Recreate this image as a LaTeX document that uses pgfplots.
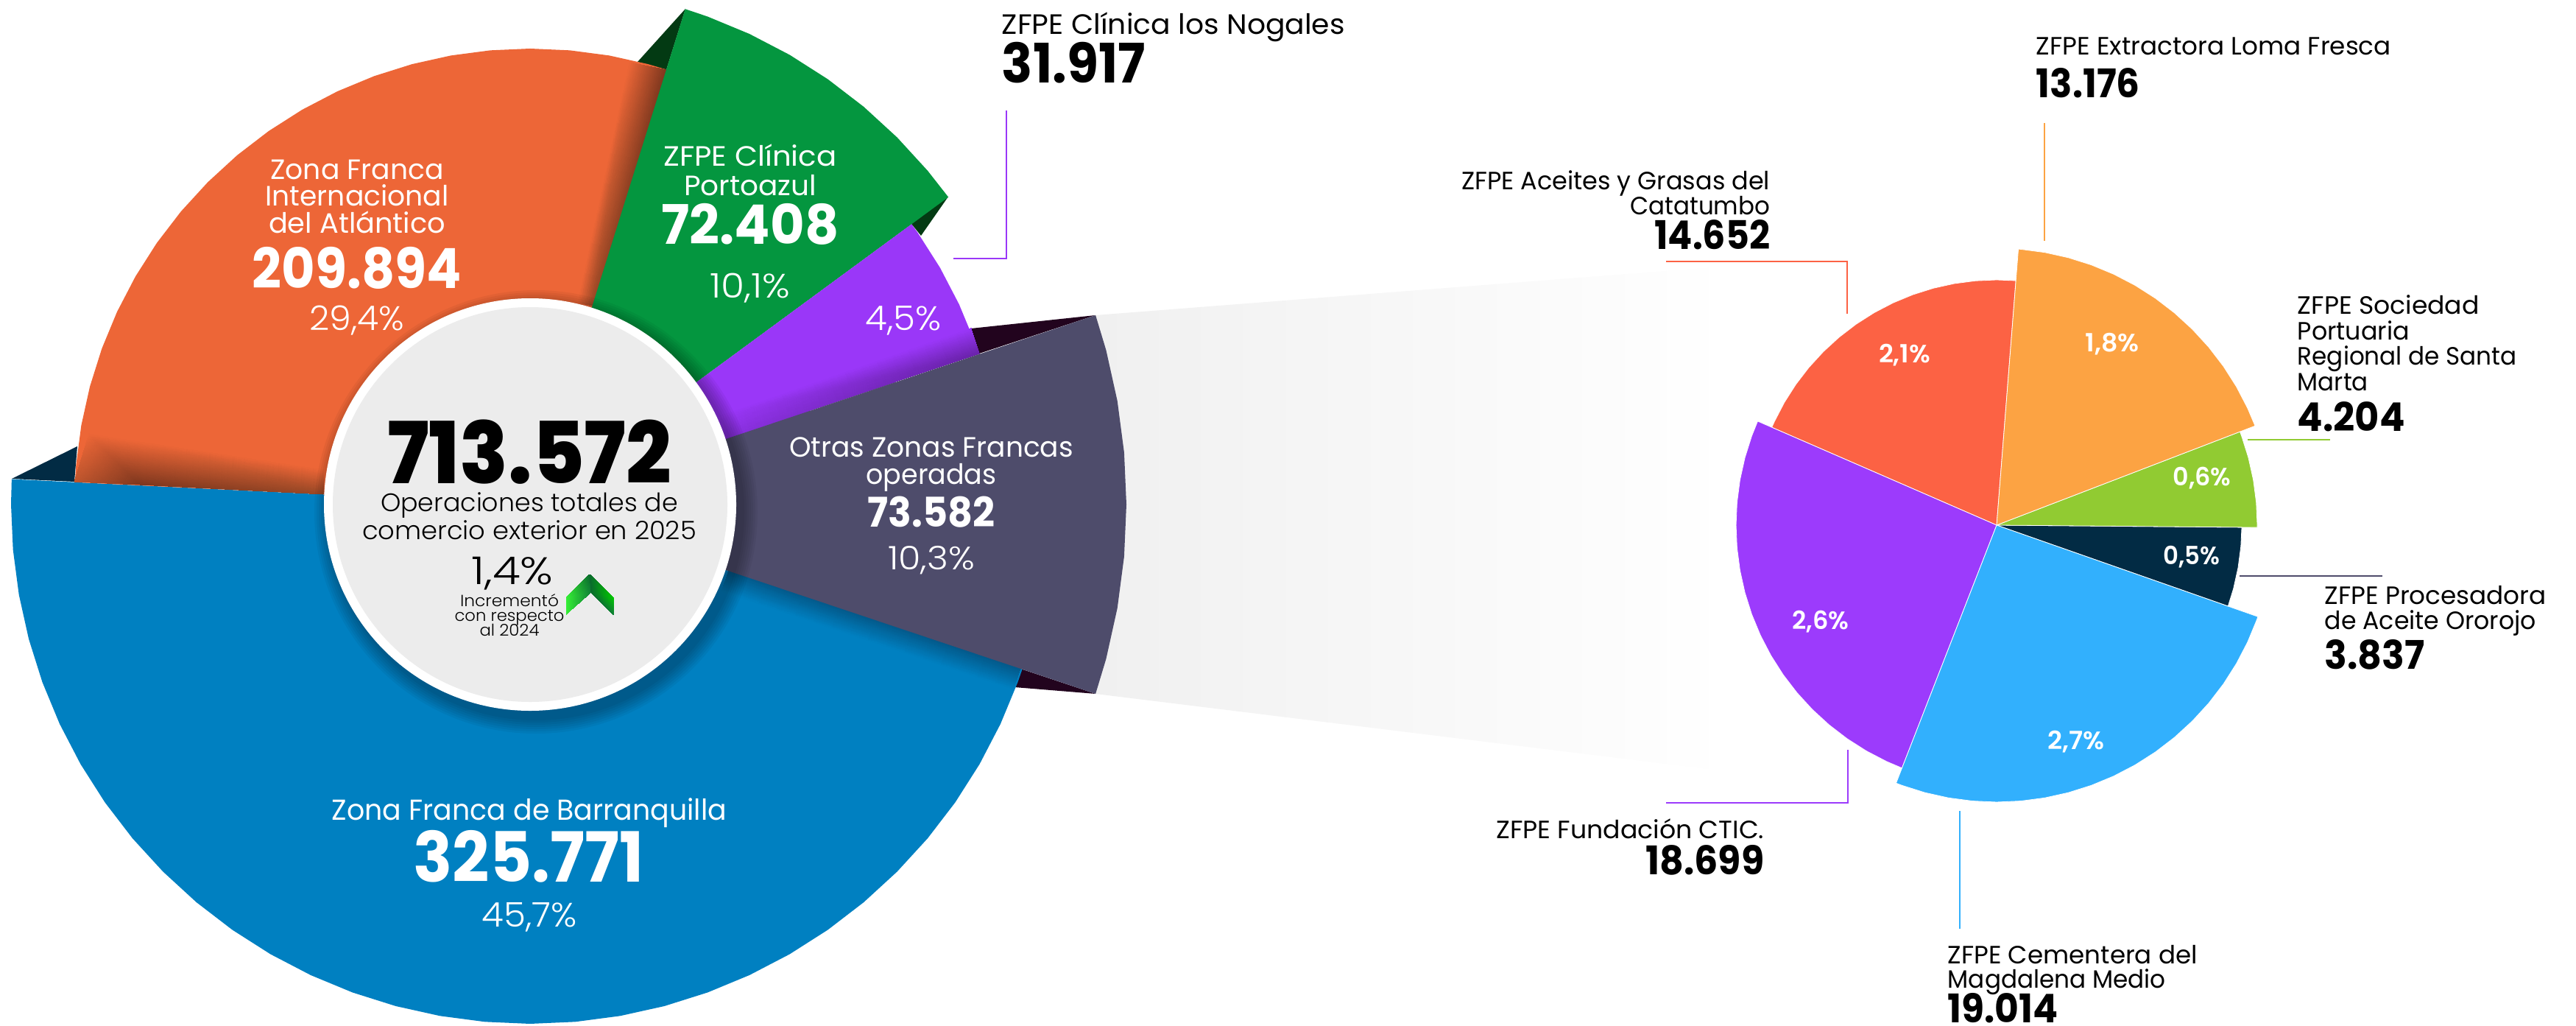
\documentclass[border=0pt]{standalone}
\usepackage{pgfplots}
\usepackage{fontspec}
\usepackage{graphicx}
\pgfplotsset{compat=1.18}
\setmainfont{Poppins}
\newfontfamily\pl{Poppins Light}
\newfontfamily\pr{Poppins}
\newfontfamily\pb{Poppins}[BoldFont={Poppins ExtraBold}]
\newfontfamily\pbb{Poppins}[BoldFont={Poppins Bold}]
\newfontfamily\psb{Poppins SemiBold}
\definecolor{cOr}{HTML}{ED6637}\definecolor{cOrD}{HTML}{7E371E}\definecolor{cOrM}{HTML}{9A4826}
\definecolor{cOrL}{HTML}{C0562E}
\definecolor{cGr}{HTML}{04963F}\definecolor{cGrD}{HTML}{033A13}
\definecolor{cPu}{HTML}{9A37F8}\definecolor{cPuD}{HTML}{6A22AB}\definecolor{cPuM}{HTML}{8A30E0}\definecolor{cPuK}{HTML}{22041E}
\definecolor{cDk}{HTML}{4E4C6B}
\definecolor{cBl}{HTML}{0080C1}\definecolor{cBlD}{HTML}{03598A}\definecolor{cNv}{HTML}{022B44}
\definecolor{rLi}{HTML}{91CB32}\definecolor{rOr}{HTML}{FCA343}\definecolor{rRe}{HTML}{FC6244}
\definecolor{rPu}{HTML}{9C3BFC}\definecolor{rBl}{HTML}{32B0FD}\definecolor{rNv}{HTML}{022B44}
\definecolor{fGr}{HTML}{F0F0F0}\definecolor{cCi}{HTML}{ECECEC}
\definecolor{aA}{HTML}{0A6B2C}\definecolor{aB}{HTML}{35F035}\definecolor{aC}{HTML}{00C800}\definecolor{aD}{HTML}{0F7F35}
\pgfplotsset{
  base/.style={scale only axis,width=874.75pt,height=348pt,at={(0,0)},anchor=south west,hide axis,clip=false},
  sec/.style={data cs=polar,no marks,fill=#1,draw=none},
  secw/.style={data cs=polar,no marks,fill=#1,draw=white,line width=0.2pt},
  fold/.style={no marks,fill=#1,draw=none},
  grad/.style={patch,patch type=rectangle,shader=interp,mesh/color input=explicit,point meta=explicit symbolic},
  lead/.style={no marks,draw=#1,line width=0.55pt}
}
% x y anchor size(pt) width(px) fontswitch text colour
\newcommand\T[8]{\node[anchor=#3,inner sep=0pt,text=#8] at (axis cs:#1,#2)
  {\resizebox{\dimexpr0.25pt*#5\relax}{\height}{\fontsize{#4pt}{#4pt}\selectfont#6#7}};}
\begin{document}
\begin{tikzpicture}
\path[use as bounding box] (0,0) rectangle (874.75pt,348pt);
% ---------- left pie, origin at its centre
\begin{axis}[base,xmin=-720,xmax=2779,ymin=-707,ymax=685]
\addplot[no marks,draw=none,left color=fGr,right color=white] coordinates {(768,257)(1630,324)(1630,-363)(768,-257)} -- cycle;
\addplot[fold=cGrD] coordinates {(211,673)(146,601)(185,590)};
\addplot[fold=cGrD] coordinates {(568,418)(518,381)(531,365)};
\addplot[fold=cPuK] coordinates {(599,239)(768,257)(610,205)};
\addplot[fold=cPuK] coordinates {(666,-223)(768,-257)(658,-248)};
\addplot[fold=cNv] coordinates {(-704,35)(-615,79)(-619,31)};
% Zona Franca de Barranquilla 325.771
\addplot[sec=cBl] coordinates {(0,0)(177.2,705)(180,705)(185,705)(190,705)(195,705)(200,705)(205,705)(210,705)(215,705)(220,705)(225,705)(230,705)(235,705)(240,705)(245,705)(250,705)(255,705)(260,705)(265,705)(270,705)(275,705)(280,705)(285,705)(290,705)(295,705)(300,705)(305,705)(310,705)(315,705)(320,705)(325,705)(330,705)(335,705)(340,705)(341.5,705)};
% Zona Franca Internacional del Atlantico 209.894
\addplot[sec=cOr] coordinates {(0,0)(72.5,619)(75,619)(80,619)(85,619)(90,619)(95,619)(100,619)(105,619)(110,619)(115,619)(120,619)(125,619)(130,619)(135,619)(140,619)(145,619)(150,619)(155,619)(160,619)(165,619)(170,619)(175,619)(177.2,619)};
\addplot[grad] coordinates {(-619,31)[color=cOrL] (-530,27)[color=cOrD] (-530,85)[color=cOr] (-599,96)[color=cOr]};
\addplot[grad] coordinates {(-530,27)[color=cOrD] (-280,14)[color=cOrM] (-280,47)[color=cOr] (-530,85)[color=cOr]};
\addplot[grad] coordinates {(185,590)[color=cOrD] (85,270)[color=cOrM] (65,274)[color=cOr] (135,600)[color=cOr]};
\addplot[grad] coordinates {(270,-90)[color=cBlD] (666,-223)[color=cBlD] (656,-251)[color=cBl] (260,-118)[color=cBl]};
% ZFPE Clinica Portoazul 72.408
\addplot[sec=cGr] coordinates {(0,0)(36.3,705)(40,705)(45,705)(50,705)(55,705)(60,705)(65,705)(70,705)(72.6,705)};
% ZFPE Clinica los Nogales 31.917
\addplot[sec=cPu] coordinates {(0,0)(18.6,643)(20,643)(25,643)(30,643)(35,643)(36.3,643)};
\addplot[grad] coordinates {(265,89)[color=cPuM] (610,205)[color=cPuD] (599,239)[color=cPu] (255,119)[color=cPu]};
% Otras Zonas Francas operadas 73.582
\addplot[sec=cDk] coordinates {(0,0)(-18.5,810)(-15,810)(-10,810)(-5,810)(0,810)(5,810)(10,810)(15,810)(18.5,810)};
\end{axis}
% ---------- right pie, origin at its centre
\begin{axis}[base,xmin=-2712,xmax=787,ymin=-679,ymax=713]
% Procesadora de Aceite Ororojo 3.837
\addplot[secw=rNv] coordinates {(0,0)(340.7,333)(345,333)(350,333)(355,333)(359.5,333)} -- cycle;
% Sociedad Portuaria Regional de Santa Marta 4.204
\addplot[secw=rLi] coordinates {(0,0)(-0.5,354)(0,354)(5,354)(10,354)(15,354)(20,354)(21,354)} -- cycle;
% Aceites y Grasas del Catatumbo 14.652
\addplot[secw=rRe] coordinates {(0,0)(85.5,333)(90,333)(95,333)(100,333)(105,333)(110,333)(115,333)(120,333)(125,333)(130,333)(135,333)(140,333)(145,333)(150,333)(155,333)(156.5,333)} -- cycle;
% Extractora Loma Fresca 13.176
\addplot[secw=rOr] coordinates {(0,0)(21,376)(25,376)(30,376)(35,376)(40,376)(45,376)(50,376)(55,376)(60,376)(65,376)(70,376)(75,376)(80,376)(85,376)(85.5,376)} -- cycle;
% Fundacion CTIC 18.699
\addplot[secw=rPu] coordinates {(0,0)(156.5,354)(160,354)(165,354)(170,354)(175,354)(180,354)(185,354)(190,354)(195,354)(200,354)(205,354)(210,354)(215,354)(220,354)(225,354)(230,354)(235,354)(240,354)(245,354)(248.7,354)} -- cycle;
% Cementera del Magdalena Medio 19.014
\addplot[secw=rBl] coordinates {(0,0)(248.7,376)(250,376)(255,376)(260,376)(265,376)(270,376)(275,376)(280,376)(285,376)(290,376)(295,376)(300,376)(305,376)(310,376)(315,376)(320,376)(325,376)(330,376)(335,376)(340,376)(340.7,376)} -- cycle;
\end{axis}
% ---------- texts, leaders, centre circle, in reference pixels
\begin{axis}[base,xmin=0,xmax=3499,ymin=0,ymax=1392,y dir=reverse]
\pgfplotsinvokeforeach{1,...,7}{\fill[black,opacity=.045] (axis cs:728,695) circle ({(280+3*#1)*0.25pt});}
\fill[white] (axis cs:720,685) circle (70pt);
\fill[cCi] (axis cs:720,685) circle (67pt);
\addplot[grad] coordinates {(801,780)[color=aA] (803,804)[color=aD] (769,834)[color=aB] (769,811)[color=aB]};
\addplot[grad] coordinates {(801,780)[color=aA] (833,811)[color=aC] (833,834)[color=aD] (803,804)[color=aA]};
% leaders
\addplot[lead=cPu] coordinates {(1295,351)(1367,351)(1367,150)};
\addplot[lead=rOr] coordinates {(2777,167)(2777,327)};
\addplot[lead=rRe] coordinates {(2263,355)(2509,355)(2509,426)};
\addplot[lead=rLi] coordinates {(3053,597)(3165,597)};
\addplot[lead=cDk] coordinates {(3042,782)(3236,782)};
\addplot[lead=rPu] coordinates {(2510,1018)(2510,1090)(2263,1090)};
\addplot[lead=rBl] coordinates {(2662,1101)(2662,1261)};
% centre
\T{719}{656}{base}{29}{386}{\pb\bfseries}{713.572}{black}
\T{719}{694}{base}{8.6}{404}{\pl}{Operaciones totales de}{black}
\T{719}{732}{base}{8.6}{454}{\pl}{comercio exterior en 2025}{black}
\T{696}{793}{base}{13}{111}{\pl}{1,4\%}{black}
\T{692}{823}{base}{5.5}{134}{\pl}{Incrementó}{black}
\T{692}{843}{base}{5.5}{149}{\pl}{con respecto}{black}
\T{692}{863}{base}{5.5}{81}{\pl}{al 2024}{black}
% left pie labels
\T{485}{243}{base}{9.5}{235}{\pr}{Zona Franca}{white}
\T{485}{279}{base}{9.5}{249}{\pr}{Internacional}{white}
\T{485}{316}{base}{9.5}{240}{\pr}{del Atlántico}{white}
\T{485}{391}{base}{18.8}{284}{\pbb\bfseries}{209.894}{white}
\T{485}{448}{base}{11.5}{129}{\pl}{29,4\%}{white}
\T{1019}{225}{base}{9.5}{235}{\pr}{ZFPE Clínica}{white}
\T{1019}{265}{base}{9.5}{180}{\pr}{Portoazul}{white}
\T{1019}{331}{base}{18.5}{241}{\pbb\bfseries}{72.408}{white}
\T{1019}{404}{base}{11.5}{109}{\pl}{10,1\%}{white}
\T{1227}{448}{base}{11.5}{103}{\pl}{4,5\%}{white}
\T{1265}{620}{base}{9.5}{386}{\pr}{Otras Zonas Francas}{white}
\T{1265}{657}{base}{9.5}{177}{\pr}{operadas}{white}
\T{1265}{715}{base}{13.9}{173}{\pbb\bfseries}{73.582}{white}
\T{1265}{773}{base}{11}{118}{\pl}{10,3\%}{white}
\T{719}{1113}{base}{9.8}{536}{\pr}{Zona Franca de Barranquilla}{white}
\T{718}{1197}{base}{23.5}{313}{\pbb\bfseries}{325.771}{white}
\T{719}{1258}{base}{11.5}{129}{\pl}{45,7\%}{white}
% outer labels
\T{1360}{47}{base west}{9.5}{466}{\pr}{ZFPE Clínica los Nogales}{black}
\T{1360}{112}{base west}{18.5}{195}{\pbb\bfseries}{31.917}{black}
\T{2765}{75}{base west}{8.5}{482}{\pr}{ZFPE Extractora Loma Fresca}{black}
\T{2765}{132}{base west}{13.4}{141}{\pbb\bfseries}{13.176}{black}
\T{2405}{257}{base east}{8.5}{419}{\pr}{ZFPE Aceites y Grasas del}{black}
\T{2405}{291}{base east}{8.5}{190}{\pr}{Catatumbo}{black}
\T{2405}{338}{base east}{13.4}{157}{\pbb\bfseries}{14.652}{black}
\T{3120}{426}{base west}{8.5}{247}{\pr}{ZFPE Sociedad}{black}
\T{3120}{461}{base west}{8.5}{152}{\pr}{Portuaria}{black}
\T{3120}{495}{base west}{8.5}{298}{\pr}{Regional de Santa}{black}
\T{3120}{530}{base west}{8.5}{96}{\pr}{Marta}{black}
\T{3120}{585}{base west}{13.4}{146}{\pbb\bfseries}{4.204}{black}
\T{3157}{820}{base west}{8.5}{301}{\pr}{ZFPE Procesadora}{black}
\T{3157}{854}{base west}{8.5}{287}{\pr}{de Aceite Ororojo}{black}
\T{3157}{908}{base west}{13.4}{136}{\pbb\bfseries}{3.837}{black}
\T{2397}{1138}{base east}{8.5}{364}{\pr}{ZFPE Fundación CTIC.}{black}
\T{2397}{1187}{base east}{13.4}{161}{\pbb\bfseries}{18.699}{black}
\T{2645}{1308}{base west}{8.5}{339}{\pr}{ZFPE Cementera del}{black}
\T{2645}{1341}{base west}{8.5}{296}{\pr}{Magdalena Medio}{black}
\T{2645}{1388}{base west}{13.4}{150}{\pbb\bfseries}{19.014}{black}
% right pie percentages
\T{2587}{492}{base}{8.5}{70}{\psb}{2,1\%}{white}
\T{2869}{477}{base}{8.5}{73}{\psb}{1,8\%}{white}
\T{2991}{659}{base}{8.5}{79}{\psb}{0,6\%}{white}
\T{2977}{766}{base}{8.5}{77}{\psb}{0,5\%}{white}
\T{2473}{854}{base}{8.5}{77}{\psb}{2,6\%}{white}
\T{2820}{1017}{base}{8.5}{77}{\psb}{2,7\%}{white}
\end{axis}
\end{tikzpicture}
\end{document}
